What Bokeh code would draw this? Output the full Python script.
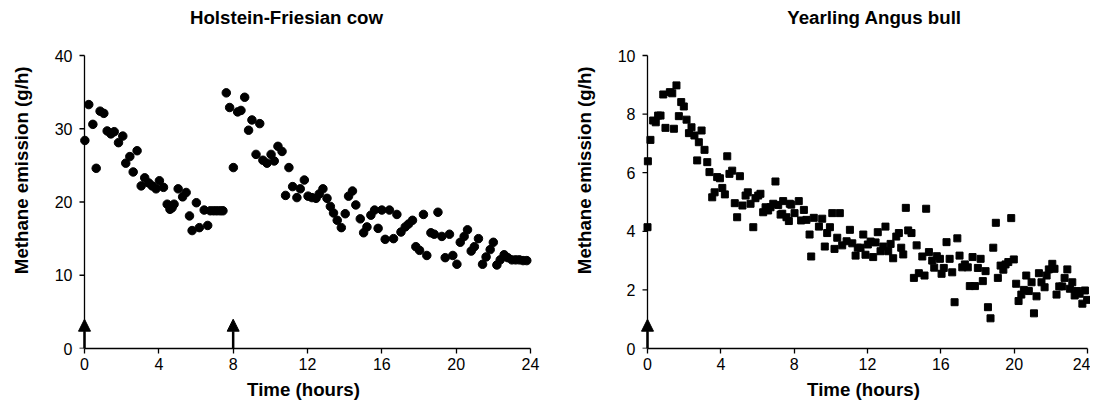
from math import pi
from bokeh.plotting import figure
from bokeh.layouts import row
from bokeh.models import Arrow, NormalHead, FixedTicker, Range1d, Label
from bokeh.embed import file_html
from bokeh.resources import INLINE

# ---------------- data ----------------
cow_title = "Holstein-Friesian cow"
bull_title = "Yearling Angus bull"
x_label = "Time (hours)"
y_label = "Methane emission (g/h)"

time_ticks = [0, 4, 8, 12, 16, 20, 24]
cow_y_ticks = [0, 10, 20, 30, 40]
bull_y_ticks = [0, 2, 4, 6, 8, 10]

cow_feed_times = [0, 8]
bull_feed_times = [0]

cow_time = [0.02, 0.23, 0.45, 0.63, 0.84, 1.04, 1.22, 1.42, 1.60, 1.83, 2.06, 2.22, 2.44, 2.62, 2.83,
            3.05, 3.24, 3.46, 3.64, 3.85, 4.03, 4.25, 4.45, 4.60, 4.71, 4.82, 5.04, 5.28, 5.47, 5.65,
            5.79, 6.02, 6.18, 6.44, 6.63, 6.77, 6.95, 7.12, 7.30, 7.45,
            7.63, 7.81, 8.01, 8.24, 8.42, 8.62, 8.83, 9.01, 9.23, 9.43, 9.60, 9.82, 10.04, 10.21,
            10.41, 10.63, 10.82, 11.00, 11.20, 11.43, 11.61, 11.83, 12.03, 12.24, 12.46, 12.63,
            12.83, 13.05, 13.23, 13.40, 13.60, 13.82, 14.03, 14.21, 14.42, 14.60, 14.84, 15.02,
            15.20, 15.41, 15.61, 15.80, 16.00, 16.18, 16.41, 16.63, 16.81, 17.03, 17.26, 17.44,
            17.65, 17.83, 18.03, 18.24, 18.42, 18.64, 18.82, 19.02, 19.23, 19.41, 19.64, 19.82,
            20.04, 20.22, 20.43, 20.61, 20.81, 20.98, 21.20, 21.42, 21.61, 21.83, 22.00, 22.19,
            22.37, 22.58, 22.78, 23.00, 23.20, 23.40, 23.60, 23.80]
cow_ch4 = [28.4, 33.3, 30.6, 24.6, 32.4, 32.1, 29.7, 29.3, 29.6, 28.1, 29.0, 25.3, 26.2, 24.1, 27.0,
           22.2, 23.3, 22.6, 22.2, 21.8, 22.9, 22.0, 19.7, 19.0, 19.2, 19.7, 21.8, 20.7, 21.3, 18.1,
           16.1, 19.9, 16.5, 18.9, 16.8, 18.8, 18.8, 18.8, 18.8, 18.8,
           34.9, 32.9, 24.7, 32.3, 32.5, 34.3, 29.8, 31.2, 26.5, 30.7, 25.7, 25.3, 26.5, 25.6,
           27.6, 26.9, 20.9, 24.7, 22.1, 20.6, 21.8, 23.0, 20.8, 20.6, 20.5, 21.1,
           21.8, 20.5, 19.4, 18.5, 17.5, 16.5, 18.4, 20.8, 21.5, 19.6, 17.7, 15.8,
           16.6, 18.2, 18.9, 16.4, 18.9, 14.9, 18.9, 15.0, 18.3, 15.9, 16.6, 17.0,
           17.5, 13.9, 13.4, 18.3, 12.7, 15.8, 15.6, 18.6, 15.3, 12.4, 15.6, 12.7,
           11.5, 14.5, 15.3, 16.2, 13.3, 13.9, 15.0, 11.5, 12.5, 13.5, 14.5, 11.4,
           12.1, 12.8, 12.4, 12.1, 12.1, 12.1, 12.0, 12.0]

bull_time = [0.00, 0.02, 0.16, 0.31, 0.45, 0.58, 0.71, 0.86, 0.98, 1.22, 1.35, 1.44, 1.58, 1.71, 1.84,
             1.98, 2.13, 2.26, 2.40, 2.56, 2.71, 2.80, 2.95, 3.11, 3.26, 3.38, 3.53, 3.66, 3.80, 3.95,
             4.08, 4.22, 4.35, 4.47, 4.62, 4.76, 4.89, 5.04, 5.18, 5.35, 5.47, 5.62, 5.77, 5.89, 6.04,
             6.16, 6.31, 6.44, 6.58, 6.71, 6.86, 6.98, 7.13, 7.26, 7.35, 7.40, 7.58, 7.71, 7.76, 7.84,
             8.02, 8.25, 8.38, 8.53, 8.67, 8.84, 8.93, 9.07, 9.35, 9.53, 9.67, 9.80, 9.95, 10.08, 10.20,
             10.35, 10.49, 10.62, 10.86, 11.04, 11.17, 11.35, 11.47, 11.62, 11.77, 11.89, 12.02, 12.17,
             12.31, 12.44, 12.56, 12.71, 12.86, 12.98, 13.13, 13.26, 13.40, 13.57, 13.71, 13.84, 13.95,
             14.09, 14.22, 14.40, 14.53, 14.68, 14.80, 14.99, 15.11, 15.20, 15.35, 15.53, 15.64, 15.78,
             15.95, 16.04, 16.16, 16.31, 16.48, 16.62, 16.75, 16.90, 17.02, 17.17, 17.31, 17.47, 17.58,
             17.73, 17.86, 18.02, 18.17, 18.29, 18.44, 18.57, 18.71, 18.86, 19.00, 19.11, 19.26, 19.41,
             19.53, 19.68, 19.84, 19.98, 20.11, 20.24, 20.39, 20.53, 20.66, 20.80, 20.95, 21.08, 21.22,
             21.35, 21.49, 21.66, 21.77, 21.89, 22.08, 22.20, 22.31, 22.46, 22.62, 22.75, 22.90, 23.04,
             23.17, 23.30, 23.44, 23.57, 23.72, 23.86, 23.98]
bull_ch4 = [4.14, 6.39, 7.12, 7.78, 7.72, 7.95, 7.95, 8.67, 7.53, 8.75, 8.71, 7.50, 8.98, 7.93, 8.41,
            8.26, 7.81, 7.35, 7.55, 7.27, 6.42, 7.04, 7.44, 6.78, 6.36, 6.02, 5.16, 5.33, 5.85, 5.81,
            5.48, 5.26, 6.56, 5.96, 6.07, 4.96, 4.48, 5.88, 4.88, 5.22, 5.33, 4.94, 4.14, 5.13, 5.22,
            5.28, 4.65, 4.82, 4.71, 4.82, 4.94, 5.70, 4.90, 4.57, 4.60, 5.03, 4.48, 4.35, 4.94, 4.91,
            4.62, 5.03, 4.37, 4.73, 4.39, 3.89, 3.14, 4.46, 4.16, 4.43, 3.48, 3.94, 4.14, 4.62, 3.40,
            3.78, 4.62, 3.52, 3.66, 4.05, 3.59, 3.17, 3.44, 3.44, 3.89, 3.20, 3.55, 3.65,
            3.12, 3.62, 3.97, 3.32, 3.48, 4.16, 3.32, 3.57, 3.08, 3.82, 3.94, 3.44, 3.21,
            4.80, 4.03, 3.94, 2.41, 3.52, 2.57, 3.14, 2.49, 4.77, 3.29, 3.00, 2.76, 3.15,
            3.06, 2.55, 2.75, 3.63, 3.06, 2.60, 1.58, 3.76, 3.17, 2.77, 2.87, 2.77, 2.13,
            3.12, 2.13, 2.75, 3.06, 2.30, 2.64, 1.41, 1.03, 3.44, 4.29, 2.41, 2.83, 2.69,
            2.87, 2.95, 4.45, 3.04, 2.21, 1.62, 1.84, 2.00, 2.49, 1.96, 2.26, 1.20, 1.78,
            2.57, 2.26, 2.09, 2.49, 2.70, 2.89, 2.72, 1.84, 2.12, 2.12, 2.41, 2.70, 2.04,
            2.26, 1.81, 1.96, 1.87, 1.53, 1.98, 1.66]

FONT = "Liberation Sans"
NBSP = "\u00a0"

PAD_L, PAD_R = 11, 3     # px of frame beyond the time axis extent
AXIS_TOP = 55            # page y of the top y tick
AXIS_BOT = 348           # page y of y = 0
FRAME_TOP = 2            # frame extends up to hold the title
TITLE_Y = 17             # page y of the title's centre
HEIGHT = 405


def make_panel(title, xs, ys, yticks, feeds, marker, size, fig_left_px, fig_w, axis_left_px,
               axis_w_px, title_center_px):
    ymax = yticks[-1]
    xmax = time_ticks[-1]
    pxh = axis_w_px / xmax
    pxv = (AXIS_BOT - AXIS_TOP) / ymax
    frame_w = axis_w_px + PAD_L + PAD_R
    border_left = axis_left_px - PAD_L - fig_left_px
    border_right = fig_w - border_left - frame_w
    frame_h = AXIS_BOT - FRAME_TOP
    border_bottom = HEIGHT - AXIS_BOT

    p = figure(width=fig_w, height=HEIGHT, output_backend="svg", toolbar_location=None,
               title=None,
               x_range=Range1d(-PAD_L / pxh, xmax + PAD_R / pxh),
               y_range=Range1d(0, frame_h / pxv),
               min_border_left=border_left, min_border_right=border_right,
               min_border_top=FRAME_TOP, min_border_bottom=border_bottom)
    p.outline_line_color = None
    p.xgrid.visible = False
    p.ygrid.visible = False
    p.background_fill_color = "white"
    p.border_fill_color = "white"

    # title, inside the (extended) frame
    p.add_layout(Label(x=(title_center_px - axis_left_px) / pxh, y=(AXIS_BOT - TITLE_Y) / pxv,
                       text=title, text_font=FONT, text_font_size="18.7px",
                       text_font_style="bold", text_color="black",
                       text_align="center", text_baseline="middle"))

    # y-axis line and ticks drawn at x = 0
    p.segment(x0=[0], y0=[0], x1=[0], y1=[ymax], line_color="black", line_width=1.3)
    p.ray(x=[0] * len(yticks), y=yticks, length=5, length_units="screen", angle=pi,
          line_color="black", line_width=1.3)

    p.scatter(xs, ys, marker=marker, size=size, fill_color="black", line_color="black")

    for t in feeds:
        p.add_layout(Arrow(end=NormalHead(size=12, fill_color="black", line_color="black"),
                           x_start=t, y_start=0, x_end=t, y_end=ymax * 0.1,
                           line_width=2.5, line_color="black"))

    for ax in (p.xaxis[0], p.yaxis[0]):
        ax.minor_tick_line_color = None
        ax.major_label_text_font = FONT
        ax.major_label_text_font_size = "16px"
        ax.major_label_text_color = "black"
        ax.axis_label_text_font = FONT
        ax.axis_label_text_font_size = "18.7px"
        ax.axis_label_text_font_style = "bold"
        ax.axis_label_text_color = "black"

    xa = p.xaxis[0]
    xa.ticker = FixedTicker(ticks=time_ticks)
    xa.bounds = (0, xmax)
    xa.axis_line_color = "black"
    xa.axis_line_width = 1.3
    xa.major_tick_line_color = "black"
    xa.major_tick_line_width = 1.3
    xa.major_tick_out = 5
    xa.major_tick_in = 0
    xa.major_label_standoff = 4
    xa.axis_label = x_label
    xa.axis_label_standoff = 6

    ya = p.yaxis[0]
    ya.ticker = FixedTicker(ticks=yticks)
    ya.axis_line_color = None
    ya.major_tick_line_color = None
    ya.major_tick_out = 0
    ya.major_tick_in = 0
    ya.major_label_standoff = 1
    ya.axis_label = NBSP * 2 + y_label
    ya.axis_label_standoff = 20
    return p


p1 = make_panel(cow_title, cow_time, cow_ch4, cow_y_ticks, cow_feed_times, "circle", 8.5,
                0, 560, 84, 446, 286)
p2 = make_panel(bull_title, bull_time, bull_ch4, bull_y_ticks, bull_feed_times, "square", 7,
                560, 530, 647, 440, 874)

layout = row(p1, p2)
open("out.html", "w").write(file_html(layout, INLINE))
